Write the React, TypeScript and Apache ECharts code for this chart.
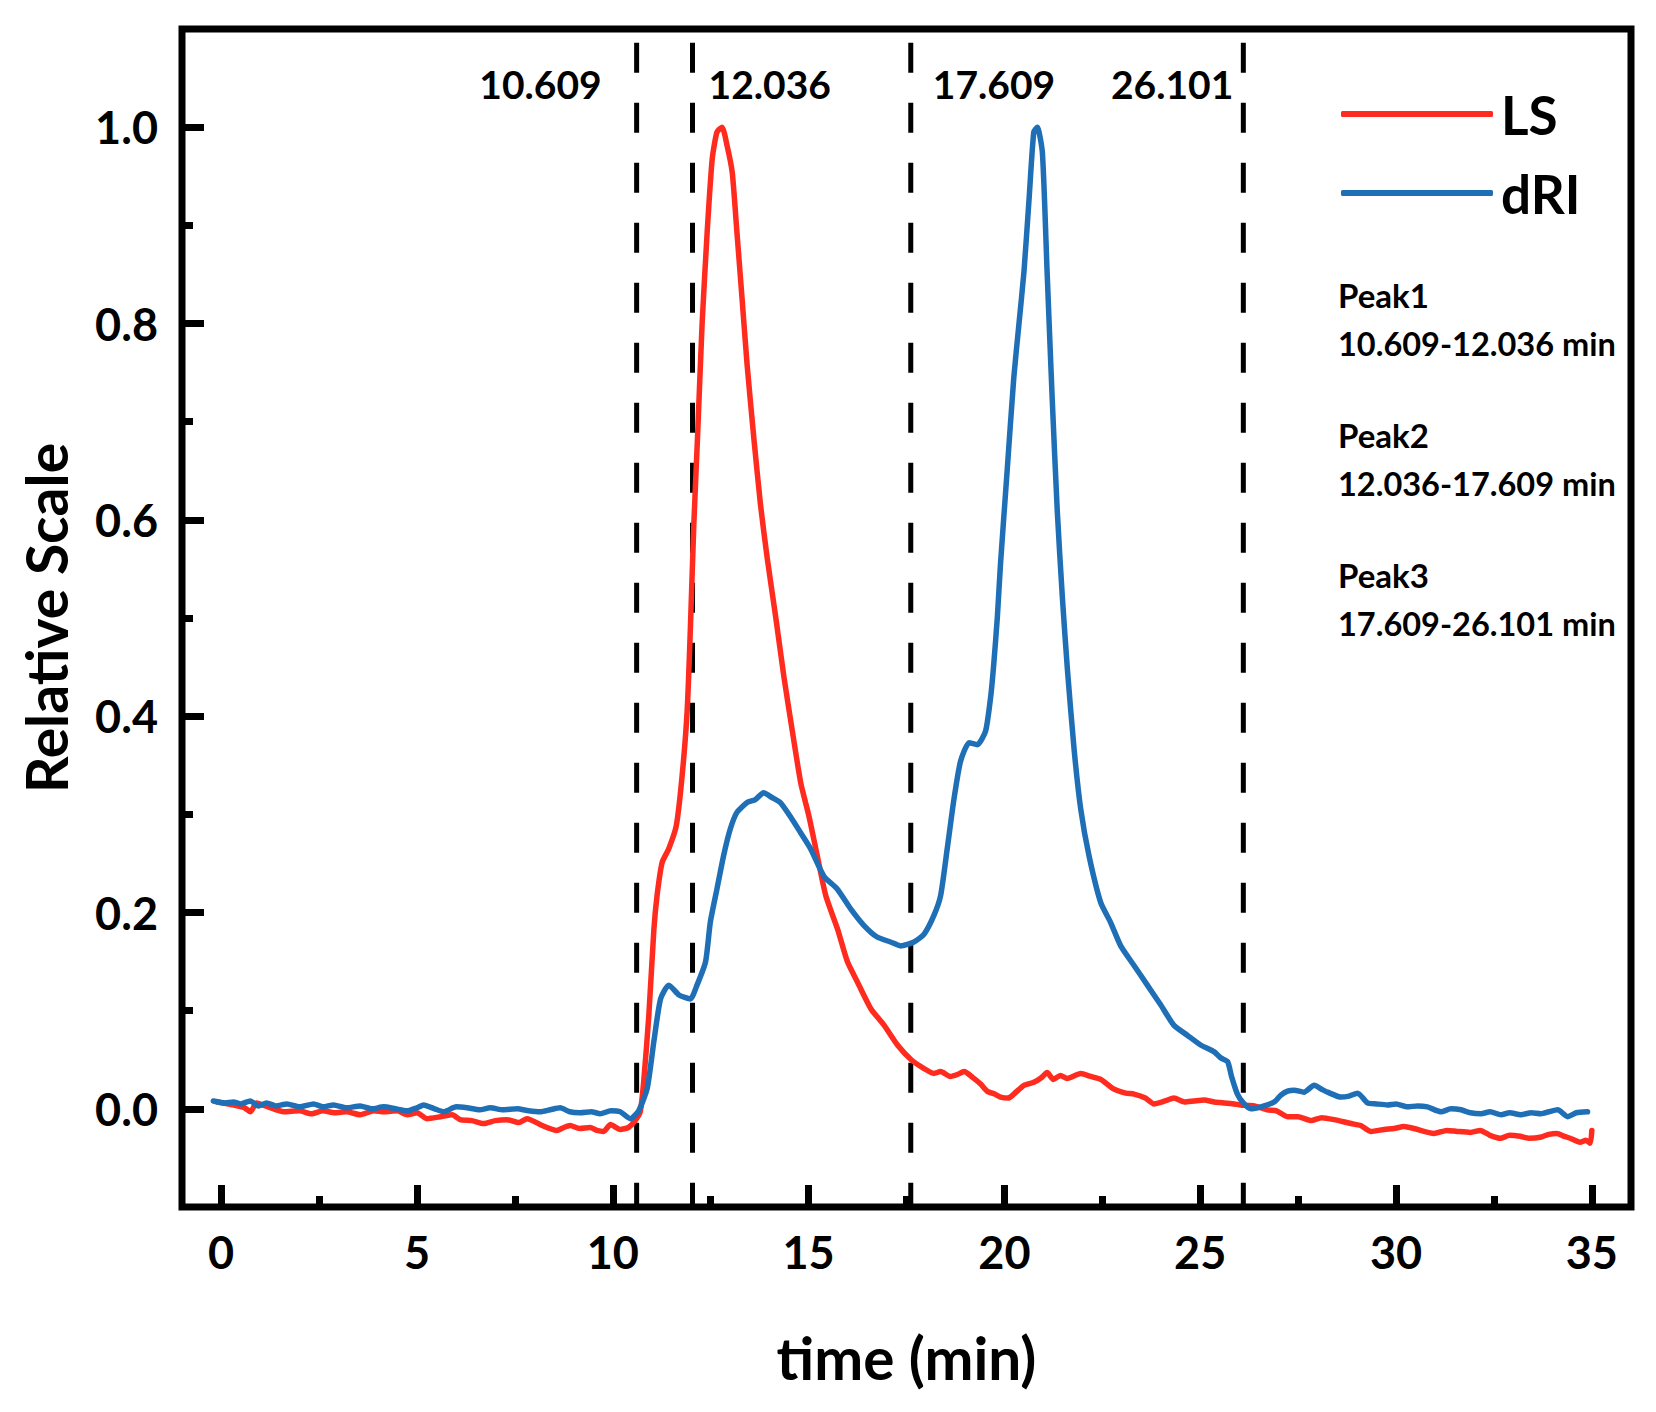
import React, { useEffect, useRef } from "react";
import * as echarts from "echarts";

// ---- data ----
const lsTime = [
  -0.1, 0.3, 0.6, 0.75, 0.9, 1.2, 1.6, 2.0, 2.3, 2.6, 2.9, 3.2, 3.55, 3.9, 4.15, 4.5, 4.75, 5.0, 5.25, 5.6,
  5.9, 6.1, 6.4, 6.7, 7.0, 7.3, 7.6, 7.81, 8.2, 8.57, 8.75, 8.91, 9.15, 9.42, 9.6, 9.77, 9.94, 10.19, 10.4, 10.55,
  10.7, 10.79, 10.92, 11.05, 11.13, 11.26, 11.43, 11.62, 11.77, 11.9, 11.98, 12.07, 12.17, 12.28, 12.41, 12.54,
  12.66, 12.79, 12.92, 13.05, 13.17, 13.3, 13.43, 13.6, 13.77, 13.94, 14.16, 14.37, 14.58, 14.8, 15.01, 15.22,
  15.44, 15.74, 15.99, 16.25, 16.59, 16.93, 17.27, 17.62, 17.95, 18.2, 18.37, 18.62, 18.8, 18.97, 19.22, 19.4,
  19.56, 19.75, 19.9, 20.1, 20.24, 20.5, 20.75, 20.95, 21.09, 21.25, 21.43, 21.6, 21.95, 22.2, 22.46, 22.8, 23.1,
  23.31, 23.6, 23.82, 24.1, 24.33, 24.6, 24.84, 25.1, 25.36, 25.6, 25.87, 26.03, 26.38, 26.71, 26.95, 27.23, 27.5,
  27.83, 28.1, 28.42, 28.85, 29.1, 29.36, 29.7, 29.95, 30.2, 30.46, 30.97, 31.3, 31.56, 31.9, 32.15, 32.4, 32.66,
  32.9, 33.17, 33.4, 33.68, 33.9, 34.11, 34.3, 34.45, 34.7, 34.85, 34.96, 35.0,
];
const lsSignal = [
  0.007, 0.004, 0.001, -0.003, 0.006, 0.002, -0.003, -0.002, -0.005, -0.002, -0.004, -0.003, -0.006, -0.002, -0.003,
  -0.002, -0.006, -0.004, -0.01, -0.008, -0.006, -0.011, -0.012, -0.015, -0.012, -0.011, -0.014, -0.01, -0.017,
  -0.022, -0.019, -0.017, -0.02, -0.019, -0.022, -0.023, -0.016, -0.021, -0.019, -0.013, -0.003, 0.028, 0.095,
  0.183, 0.217, 0.251, 0.265, 0.288, 0.339, 0.406, 0.488, 0.596, 0.69, 0.799, 0.893, 0.968, 0.995, 1.0, 0.981,
  0.954, 0.893, 0.826, 0.758, 0.684, 0.616, 0.562, 0.501, 0.44, 0.386, 0.332, 0.298, 0.258, 0.217, 0.183, 0.15,
  0.129, 0.102, 0.085, 0.065, 0.05, 0.041, 0.036, 0.038, 0.033, 0.035, 0.038, 0.031, 0.025, 0.018, 0.015, 0.012,
  0.011, 0.015, 0.024, 0.027, 0.032, 0.037, 0.03, 0.034, 0.031, 0.036, 0.033, 0.03, 0.02, 0.016, 0.015, 0.011,
  0.005, 0.008, 0.011, 0.007, 0.008, 0.009, 0.007, 0.006, 0.005, 0.004, 0.003, -0.001, -0.002, -0.008, -0.008,
  -0.012, -0.009, -0.011, -0.015, -0.017, -0.023, -0.021, -0.02, -0.018, -0.02, -0.025, -0.022, -0.023, -0.024,
  -0.022, -0.027, -0.03, -0.027, -0.028, -0.03, -0.029, -0.026, -0.025, -0.028, -0.03, -0.034, -0.032, -0.035,
  -0.022,
];

const driTime = [
  -0.2, 0.1, 0.31, 0.5, 0.74, 0.95, 1.16, 1.4, 1.68, 2.0, 2.36, 2.6, 2.87, 3.2, 3.55, 3.85, 4.15, 4.45, 4.74, 5.0,
  5.17, 5.45, 5.68, 6.0, 6.28, 6.6, 6.87, 7.2, 7.56, 7.85, 8.15, 8.4, 8.66, 8.9, 9.17, 9.45, 9.68, 9.95, 10.19,
  10.45, 10.66, 10.88, 11.05, 11.22, 11.43, 11.69, 11.98, 12.15, 12.37, 12.49, 12.66, 12.83, 13.0, 13.17, 13.43,
  13.64, 13.85, 14.07, 14.28, 14.53, 14.8, 15.05, 15.39, 15.73, 16.07, 16.41, 16.75, 17.09, 17.35, 17.69, 17.95,
  18.2, 18.37, 18.54, 18.71, 18.88, 19.1, 19.31, 19.52, 19.65, 19.73, 19.82, 19.9, 20.07, 20.24, 20.37, 20.5,
  20.63, 20.75, 20.84, 20.97, 21.09, 21.22, 21.35, 21.48, 21.61, 21.78, 21.95, 22.16, 22.46, 22.71, 22.97, 23.31,
  23.65, 23.99, 24.33, 24.67, 25.01, 25.36, 25.52, 25.7, 25.8, 25.95, 26.1, 26.29, 26.55, 26.89, 27.06, 27.23,
  27.4, 27.65, 27.91, 28.1, 28.25, 28.59, 28.8, 29.02, 29.27, 29.5, 29.78, 30.0, 30.29, 30.55, 30.8, 31.15, 31.4,
  31.66, 31.9, 32.17, 32.4, 32.68, 32.9, 33.19, 33.45, 33.7, 33.9, 34.13, 34.38, 34.6, 34.89,
];
const driSignal = [
  0.008, 0.006, 0.007, 0.005, 0.008, 0.003, 0.006, 0.003, 0.005, 0.002, 0.005, 0.002, 0.004, 0.001, 0.003, 0.0,
  0.002, 0.0, -0.002, 0.001, 0.004, 0.0, -0.003, 0.002, 0.001, -0.001, 0.001, -0.001, 0.0, -0.002, -0.003, -0.001,
  0.001, -0.003, -0.004, -0.003, -0.005, -0.002, -0.003, -0.01, -0.002, 0.021, 0.069, 0.112, 0.126, 0.116, 0.112,
  0.126, 0.15, 0.19, 0.224, 0.258, 0.285, 0.302, 0.312, 0.315, 0.322, 0.317, 0.312, 0.298, 0.281, 0.265, 0.237,
  0.224, 0.204, 0.187, 0.175, 0.17, 0.166, 0.17, 0.178, 0.197, 0.217, 0.265, 0.315, 0.354, 0.373, 0.371, 0.385,
  0.42, 0.454, 0.501, 0.555, 0.65, 0.745, 0.799, 0.853, 0.927, 0.995, 1.0, 0.974, 0.853, 0.724, 0.609, 0.521,
  0.447, 0.366, 0.305, 0.258, 0.21, 0.19, 0.166, 0.146, 0.126, 0.106, 0.085, 0.075, 0.065, 0.058, 0.052, 0.048,
  0.033, 0.015, 0.006, 0.0, 0.002, 0.007, 0.014, 0.018, 0.019, 0.017, 0.024, 0.02, 0.017, 0.012, 0.013, 0.016,
  0.006, 0.005, 0.004, 0.005, 0.002, 0.003, 0.002, -0.003, 0.0, -0.001, -0.004, -0.005, -0.003, -0.006, -0.004,
  -0.006, -0.004, -0.005, -0.003, -0.001, -0.008, -0.004, -0.003,
];

const peakCuts = [10.609, 12.036, 17.609, 26.101];
const cutLabels = ["10.609", "12.036", "17.609", "26.101"];
const peakNames = ["Peak1", "Peak2", "Peak3"];
const peakRanges = ["10.609-12.036 min", "12.036-17.609 min", "17.609-26.101 min"];

const xTickValues = [0, 5, 10, 15, 20, 25, 30, 35];
const xMinorTickValues = [2.5, 7.5, 12.5, 17.5, 22.5, 27.5, 32.5];
const yTickValues = [0, 0.2, 0.4, 0.6, 0.8, 1.0];
const yMinorTickValues = [0.1, 0.3, 0.5, 0.7, 0.9];

// ---- styles ----
const RED = "#FF2B1E";
const BLUE = "#1F6FB6";
const FONT = "Lato";
const CUT_TOP = 1.086;

// label placement relative to each cut line (px offsets, alignment)
const cutLabelStyle = [
  { align: "right", dx: -35 },
  { align: "left", dx: 16 },
  { align: "left", dx: 22 },
  { align: "right", dx: -10 },
];

export default function App() {
  const ref = useRef<HTMLDivElement>(null);

  useEffect(() => {
    document.body.style.margin = "0";
    document.body.style.overflow = "hidden";
    if (!ref.current) return;
    const chart = echarts.init(ref.current, undefined, { renderer: "svg" });

    const tickLabelStyle = {
      fontFamily: FONT,
      fontWeight: "bold" as const,
      fontSize: 45,
      color: "#000",
    };
    const nameStyle = {
      fontFamily: FONT,
      fontWeight: "bold" as const,
      fontSize: 57,
      color: "#000",
    };
    const majorTick = (values: number[]) => ({
      show: true,
      inside: true,
      length: 22,
      lineStyle: { color: "#000", width: 7 },
      customValues: values,
    });
    const minorTick = (values: number[]) => ({
      show: true,
      inside: true,
      length: 11,
      lineStyle: { color: "#000", width: 7 },
      customValues: values,
    });

    const cutSeries = peakCuts.map((c, i) => ({
      name: "cut" + i,
      type: "line" as const,
      data: [
        [c, CUT_TOP],
        [c, -0.1],
      ],
      symbol: "none",
      silent: true,
      z: 2,
      lineStyle: { color: "#000", width: 5, type: [30, 30] },
    }));

    chart.setOption({
      animation: false,
      backgroundColor: "#fff",
      grid: {
        left: 182,
        top: 29,
        width: 1449,
        height: 1178,
        show: true,
        borderColor: "#000",
        borderWidth: 7,
        backgroundColor: "transparent",
        containLabel: false,
      },
      legend: {
        data: [
          { name: "LS", icon: "roundRect" },
          { name: "dRI", icon: "roundRect" },
        ],
        orient: "vertical",
        left: 1336,
        top: 81,
        itemWidth: 152,
        itemHeight: 6,
        itemGap: 23,
        selectedMode: false,
        textStyle: {
          fontFamily: FONT,
          fontWeight: "bold",
          fontSize: 53,
          lineHeight: 56,
          color: "#000",
          padding: [0, 0, 0, 3],
        },
      },
      xAxis: [
        {
          type: "value",
          min: -1,
          max: 36,
          position: "bottom",
          axisLine: { show: false, onZero: false },
          splitLine: { show: false },
          axisTick: majorTick(xTickValues),
          axisLabel: {
            ...tickLabelStyle,
            margin: 22,
            customValues: xTickValues,
            formatter: (v: number) => String(v),
          },
          name: "time (min)",
          nameLocation: "middle",
          nameGap: 120,
          nameTextStyle: { ...nameStyle, fontSize: 58.5 },
        },
        {
          type: "value",
          min: -1,
          max: 36,
          position: "bottom",
          axisLine: { show: false, onZero: false },
          splitLine: { show: false },
          axisLabel: { show: false },
          axisTick: minorTick(xMinorTickValues),
        },
      ],
      yAxis: [
        {
          type: "value",
          min: -0.1,
          max: 1.1,
          position: "left",
          axisLine: { show: false, onZero: false },
          splitLine: { show: false },
          axisTick: majorTick(yTickValues),
          axisLabel: {
            ...tickLabelStyle,
            margin: 24,
            customValues: yTickValues,
            formatter: (v: number) => v.toFixed(1),
          },
          name: "Relative Scale",
          nameLocation: "middle",
          nameRotate: 90,
          nameGap: 108,
          nameTextStyle: nameStyle,
        },
        {
          type: "value",
          min: -0.1,
          max: 1.1,
          position: "left",
          axisLine: { show: false, onZero: false },
          splitLine: { show: false },
          axisLabel: { show: false },
          axisTick: minorTick(yMinorTickValues),
        },
      ],
      series: [
        ...cutSeries,
        {
          name: "LS",
          type: "line",
          data: lsTime.map((t, i) => [t, lsSignal[i]]),
          symbol: "none",
          showSymbol: false,
          smooth: 0.2,
          z: 3,
          color: RED,
          lineStyle: { color: RED, width: 5.5, cap: "round", join: "round" },
        },
        {
          name: "dRI",
          type: "line",
          data: driTime.map((t, i) => [t, driSignal[i]]),
          symbol: "none",
          showSymbol: false,
          smooth: 0.2,
          z: 4,
          color: BLUE,
          lineStyle: { color: BLUE, width: 5.5, cap: "round", join: "round" },
        },
      ],
    });

    // annotations placed from the axes' own scale
    const labelY = chart.convertToPixel({ gridIndex: 0 }, [0, 1.0]) as number[];
    const graphics: any[] = peakCuts.map((c, i) => {
      const p = chart.convertToPixel({ gridIndex: 0 }, [c, 1.0]) as number[];
      return {
        type: "text",
        x: p[0] + cutLabelStyle[i].dx,
        y: labelY[1] - 43,
        style: {
          text: cutLabels[i],
          font: `bold 39px ${FONT}`,
          fill: "#000",
          align: cutLabelStyle[i].align,
          verticalAlign: "middle",
        },
        z: 10,
      };
    });
    const peakTop = [295, 435, 575];
    peakNames.forEach((n, i) => {
      graphics.push({
        type: "text",
        x: 1338,
        y: peakTop[i],
        style: { text: n, font: `bold 33px ${FONT}`, fill: "#000", align: "left", verticalAlign: "middle" },
        z: 10,
      });
      graphics.push({
        type: "text",
        x: 1338,
        y: peakTop[i] + 48,
        style: {
          text: peakRanges[i],
          font: `bold 32.5px ${FONT}`,
          fill: "#000",
          align: "left",
          verticalAlign: "middle",
        },
        z: 10,
      });
    });
    chart.setOption({ graphic: graphics });

    return () => chart.dispose();
  }, []);

  return <div ref={ref} style={{ width: 1656, height: 1412 }} />;
}
